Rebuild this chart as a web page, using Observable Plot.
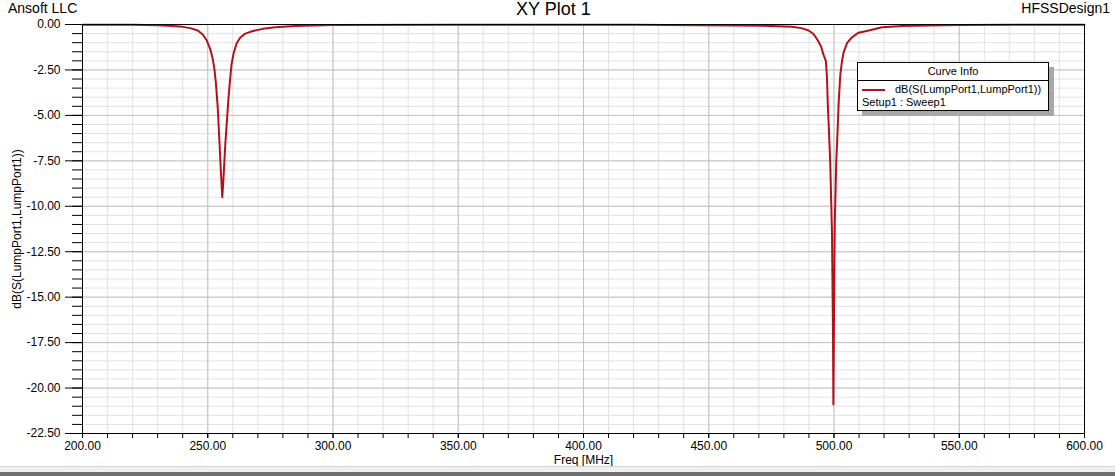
<!DOCTYPE html>
<html>
<head>
<meta charset="utf-8">
<script src="https://cdn.jsdelivr.net/npm/d3@7"></script>
<script src="https://cdn.jsdelivr.net/npm/@observablehq/plot@0.6"></script>
<style>
  html, body { margin: 0; padding: 0; background: #fff; }
  #wrap { position: relative; width: 1115px; height: 476px; overflow: hidden; font-family: "Liberation Sans", Arial, sans-serif; }
  .t { position: absolute; white-space: nowrap; color: #000; }
  #legend { position: absolute; left: 857px; top: 62px; width: 190px; height: 47px; background: #fff; border: 1px solid #000; box-shadow: 5px 5px 0 #a8a8a8; font-size: 11px; }
  #legend .hd { height: 17px; line-height: 17px; text-align: center; border-bottom: 1px solid #000; }
  #legend .row { position: relative; height: 13px; line-height: 13px; }
  #bar { position: absolute; left: 0; top: 466px; width: 1115px; height: 10px; background: #f0f0f0; border-top: 1px solid #d4d4d4; box-sizing: border-box; }
  #bar2 { position: absolute; left: 0; top: 472px; width: 1115px; height: 4px; background: #6e6e6e; }
</style>
</head>
<body>
<div id="wrap">
  <div id="chart"></div>
  <div class="t" style="left:8px; top:0px; font-size:14px;">Ansoft LLC</div>
  <div class="t" style="left:516px; top:-1px; font-size:18px;">XY Plot 1</div>
  <div class="t" style="right:5px; top:0px; font-size:14px;">HFSSDesign1</div>
  <div id="legend">
    <div class="hd">Curve Info</div>
    <div class="row" style="margin-top:2px;"><span style="position:absolute; left:4px; top:6px; width:23px; height:2px; background:#b3121b;"></span><span style="position:absolute; left:37px;">dB(S(LumpPort1,LumpPort1))</span></div>
    <div class="row"><span style="position:absolute; left:4px;">Setup1 : Sweep1</span></div>
  </div>
  <div id="bar"></div>
  <div id="bar2"></div>
</div>
<script>
// Tick values
const xTicks = [200, 250, 300, 350, 400, 450, 500, 550, 600];
const yTicks = [0, -2.5, -5, -7.5, -10, -12.5, -15, -17.5, -20, -22.5];
const xMinor = d3.range(200, 601, 10);
const yMinor = d3.range(0, -22.51, -0.5);

// Series: dB(S(LumpPort1,LumpPort1)) vs Freq [MHz]
const freq = [
  200, 220, 230, 236, 240, 243, 246, 248, 249.5, 251, 252, 252.7, 253.3, 254, 254.5, 255, 255.4, 255.8,
  256.1, 256.5, 257, 257.6, 258.2, 258.8, 259.5, 260.3, 261.5, 263, 265, 268, 272, 277, 285, 300,
  350, 420, 460, 475, 483.2, 487, 489.9, 491.8, 493.2, 494.8, 495.9, 496.75, 497.2, 497.5, 497.9, 498.5,
  499.2, 499.6, 499.75, 500.0, 500.3, 500.9, 501.5, 501.9, 502.5, 503.2, 503.9, 505.3, 507.2, 509.8,
  513.9, 519.2, 527.5, 537.9, 550, 575, 600
];
const db = [
  -0.01, -0.02, -0.04, -0.08, -0.13, -0.2, -0.33, -0.55, -0.85, -1.35, -1.9, -2.5, -3.3, -4.6, -6.0, -7.4, -8.5, -9.5,
  -8.9, -7.9, -6.6, -5.4, -4.2, -3.2, -2.2, -1.6, -1.05, -0.72, -0.5, -0.36, -0.24, -0.15, -0.08, -0.03,
  -0.01, -0.02, -0.05, -0.08, -0.12, -0.2, -0.33, -0.52, -0.8, -1.2, -1.7, -2.0, -2.9, -4.3, -5.6, -7.6,
  -11.5, -17.0, -20.9, -16.0, -11.0, -7.6, -5.6, -4.2, -2.8, -2.0, -1.5, -1.0, -0.7, -0.45,
  -0.33, -0.15, -0.08, -0.05, -0.03, -0.01, -0.01
];
const data = freq.map((f, i) => ({ freq: f, db: db[i] }));

const plot = Plot.plot({
  width: 1115,
  height: 466,
  marginLeft: 82,
  marginRight: 31,
  marginTop: 24,
  marginBottom: 33,
  style: { fontFamily: "Liberation Sans, Arial, sans-serif", fontSize: "12px", color: "#000", background: "transparent", overflow: "visible" },
  x: { domain: [200, 600] },
  y: { domain: [-22.5, 0] },
  marks: [
    Plot.gridX(xMinor, { stroke: "#e2e2e2", strokeOpacity: 1 }),
    Plot.gridY(yMinor, { stroke: "#e2e2e2", strokeOpacity: 1 }),
    Plot.gridX(xTicks, { stroke: "#c2c2c2", strokeOpacity: 1 }),
    Plot.gridY(yTicks, { stroke: "#c2c2c2", strokeOpacity: 1 }),
    Plot.axisX(xMinor, { tickSize: 5, tickFormat: () => "", label: null, stroke: "#000" }),
    Plot.axisX(xTicks, { tickSize: 5, tickPadding: 3, tickFormat: d => d.toFixed(2), label: "Freq [MHz]", labelAnchor: "center", labelArrow: "none", labelOffset: 30, stroke: "#000" }),
    Plot.axisY(yMinor, { tickSize: 10, tickFormat: () => "", label: null, stroke: "#000" }),
    Plot.axisY(yTicks, { tickSize: 17, tickPadding: 5, tickFormat: d => d.toFixed(2), label: "dB(S(LumpPort1,LumpPort1))", labelAnchor: "center", labelArrow: "none", labelOffset: 70, stroke: "#000" }),
    Plot.line(data, { x: "freq", y: "db", stroke: "#b3121b", strokeWidth: 2, curve: "linear" }),
    Plot.frame({ stroke: "#000", strokeWidth: 1 })
  ]
});
document.getElementById("chart").appendChild(plot);
</script>
</body>
</html>
